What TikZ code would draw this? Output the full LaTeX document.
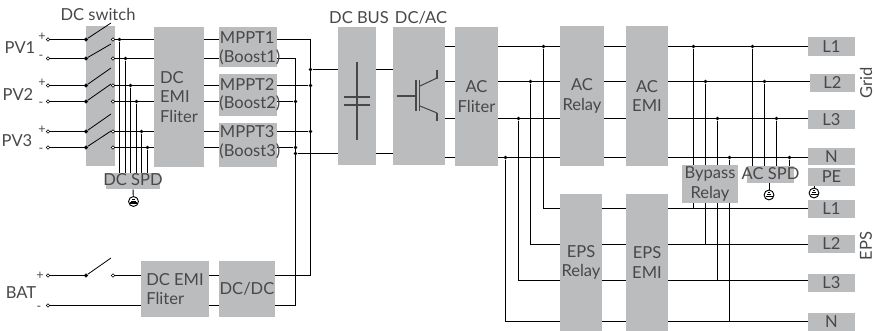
\documentclass[tikz,border=0pt]{standalone}
\usepackage{fontspec}
\setmainfont{Lato}
\definecolor{boxgray}{RGB}{187,188,190}
\definecolor{txtgray}{RGB}{72,72,74}
\tikzset{every picture/.style={line width=0.7pt}}
\tikzset{
  box/.style={fill=boxgray,inner sep=0pt,text=txtgray,align=center,font=\fontsize{12.4}{14.8}\selectfont},
  lbl/.style={inner sep=0.75pt,text=txtgray,font=\fontsize{12.4}{14.8}\selectfont},
  sign/.style={inner sep=0pt,text=txtgray,font=\fontsize{9.5}{9.5}\selectfont},
  term/.style={circle,draw,fill=white,line width=0.5pt,inner sep=0pt,minimum size=2.6pt},
  dot/.style={circle,fill=black,inner sep=0pt,minimum size=2.8pt},
  blade/.style={line width=0.6pt},
  symb/.style={color=txtgray,line width=1.1pt},
  gndsym/.pic={
    \node (-c) [circle,draw,fill=white,line width=0.7pt,inner sep=0pt,minimum size=7.4pt] at (0,0) {};
    \draw [line width=0.9pt] (-3.5,-1.6) -- (3.5,-1.6);
    \draw [line width=0.9pt] (-2.4,0.3) -- (2.4,0.3);
    \draw [line width=0.9pt] (-1.2,2.1) -- (1.2,2.1);
  }
}

\begin{document}
\begin{tikzpicture}[x=0.75pt,y=0.75pt,yscale=-1,xscale=1]
\useasboundingbox (0,0) rectangle (875,331);

%Levels of the wires
\coordinate (pa) at (0,39.5);
\coordinate (pb) at (0,58.5);
\coordinate (pc) at (0,85.5);
\coordinate (pd) at (0,101.5);
\coordinate (pe) at (0,131.5);
\coordinate (pf) at (0,147.5);
\coordinate (bp) at (0,275.5);
\coordinate (bm) at (0,305.5);
\coordinate (busp) at (0,69.5);
\coordinate (busm) at (0,153.5);
\coordinate (ga) at (0,46.5);
\coordinate (gb) at (0,81.5);
\coordinate (gc) at (0,118.5);
\coordinate (gd) at (0,157.5);
\coordinate (ea) at (0,208.5);
\coordinate (eb) at (0,244.5);
\coordinate (ec) at (0,280.5);
\coordinate (ed) at (0,321.5);

%Shapes: boxes
\node (swbox) [box,minimum width=21.75pt,minimum height=105pt] at (100.5,96) {};
\node (dcemi) [box,minimum width=37.5pt,minimum height=105pt,align=left] at (179,97) {DC\\EMI\\Fliter};
\node (mpptA) [box,minimum width=43.5pt,minimum height=30pt] at (248,47) {};
\node (mpptB) [box,minimum width=43.5pt,minimum height=31.5pt] at (248,95) {};
\node (mpptC) [box,minimum width=43.5pt,minimum height=33pt] at (248,145) {};
\node (dcspd) [box,minimum width=40.5pt,minimum height=12pt] at (133,181) {};
\node (dcbus) [box,minimum width=28.5pt,minimum height=103.5pt] at (357,96) {};
\node (dcac) [box,minimum width=39pt,minimum height=103.5pt] at (419,96) {};
\node (acfil) [box,minimum width=32.25pt,minimum height=104.25pt] at (476.5,96.5) {AC\\Fliter};
\node (acrel) [box,minimum width=33pt,minimum height=105pt] at (582,96) {AC\\Relay};
\node (acemi) [box,minimum width=31.5pt,minimum height=105pt] at (647,96) {AC\\EMI};
\node (bypass) [box,minimum width=42pt,minimum height=28.5pt] at (710,184) {Bypass\\Relay};
\node (acspd) [box,minimum width=35.25pt,minimum height=12.75pt] at (770.5,174.5) {};
\node (gridA) [box,minimum width=35.25pt,minimum height=14.25pt] at (831.5,46.5) {L1};
\node (gridB) [box,minimum width=33.75pt,minimum height=13.5pt] at (832.5,83) {L2};
\node (gridC) [box,minimum width=35.25pt,minimum height=14.25pt] at (831.5,119.5) {L3};
\node (gridN) [box,minimum width=35.25pt,minimum height=12.75pt] at (831.5,156.5) {N};
\node (gridPE) [box,minimum width=35.25pt,minimum height=13.5pt] at (831.5,177) {PE};
\node (epsA) [box,minimum width=35.25pt,minimum height=13.5pt] at (831.5,209) {L1};
\node (epsB) [box,minimum width=35.25pt,minimum height=13.5pt] at (831.5,244) {L2};
\node (epsC) [box,minimum width=35.25pt,minimum height=13.5pt] at (831.5,283) {L3};
\node (epsN) [box,minimum width=35.25pt,minimum height=13.5pt] at (831.5,322) {N};
\node (epsrel) [box,minimum width=31.5pt,minimum height=102.75pt] at (581,262.5) {EPS\\Relay};
\node (epsemi) [box,minimum width=31.5pt,minimum height=102.75pt] at (647,262.5) {EPS\\EMI};
\node (batemi) [box,minimum width=51pt,minimum height=42pt,align=left] at (175,289) {DC EMI\\Fliter};
\node (dcdc) [box,minimum width=42pt,minimum height=42pt] at (247,289) {DC/DC};

%Terminals of the PV strings and the battery
\node (inA) [term] at (48,39.5) {};
\node (inB) [term] at (48,58.5) {};
\node (inC) [term] at (48,85.5) {};
\node (inD) [term] at (48,101.5) {};
\node (inE) [term] at (48,131.5) {};
\node (inF) [term] at (48,147.5) {};
\node (inP) [term] at (48,275.5) {};
\node (inM) [term] at (48,305.5) {};
\node (swAl) [term,fill=black] at (86,39.5) {};
\node (swBl) [term,fill=black] at (86,58.5) {};
\node (swCl) [term,fill=black] at (86,85.5) {};
\node (swDl) [term,fill=black] at (86,101.5) {};
\node (swEl) [term,fill=black] at (86,131.5) {};
\node (swFl) [term,fill=black] at (86,147.5) {};
\node (swPl) [term,fill=black] at (86,275.5) {};
\node (swAr) [term] at (113,39.5) {};
\node (swBr) [term] at (113,58.5) {};
\node (swCr) [term] at (113,85.5) {};
\node (swDr) [term] at (113,101.5) {};
\node (swEr) [term] at (113,131.5) {};
\node (swFr) [term] at (113,147.5) {};
\node (swPr) [term] at (113,275.5) {};

%Switch blades
\coordinate (blA) at (111,23);
\coordinate (blB) at (111,44);
\coordinate (blC) at (111,68);
\coordinate (blD) at (111,84);
\coordinate (blE) at (111,114);
\coordinate (blF) at (111,131);
\coordinate (blP) at (111,258);
\draw [blade] (swAl) -- (blA);
\draw [blade] (swBl) -- (blB);
\draw [blade] (swCl) -- (blC);
\draw [blade] (swDl) -- (blD);
\draw [blade] (swEl) -- (blE);
\draw [blade] (swFl) -- (blF);
\draw [blade] (swPl) -- (blP);

%Straight Lines: strings into the switch
\draw (inA) -- (swAl);
\draw (inB) -- (swBl);
\draw (inC) -- (swCl);
\draw (inD) -- (swDl);
\draw (inE) -- (swEl);
\draw (inF) -- (swFl);
\draw (inP) -- (swPl);

%Straight Lines: switch to DC EMI
\draw (swAr) -- (swAr -| dcemi.west);
\draw (swBr) -- (swBr -| dcemi.west);
\draw (swCr) -- (swCr -| dcemi.west);
\draw (swDr) -- (swDr -| dcemi.west);
\draw (swEr) -- (swEr -| dcemi.west);
\draw (swFr) -- (swFr -| dcemi.west);
\draw (swPr) -- (swPr -| batemi.west);
\draw (inM) -- (inM -| batemi.west);

%Straight Lines: DC SPD
\node (spdA) [dot] at (119.5,39.5) {};
\node (spdB) [dot] at (125.5,58.5) {};
\node (spdC) [dot] at (130.5,85.5) {};
\node (spdD) [dot] at (136.5,101.5) {};
\node (spdE) [dot] at (141.5,131.5) {};
\node (spdF) [dot] at (147.5,147.5) {};
\draw (spdA) -- (spdA |- dcspd.north);
\draw (spdB) -- (spdB |- dcspd.north);
\draw (spdC) -- (spdC |- dcspd.north);
\draw (spdD) -- (spdD |- dcspd.north);
\draw (spdE) -- (spdE |- dcspd.north);
\draw (spdF) -- (spdF |- dcspd.north);

%Straight Lines: DC EMI to MPPT
\draw (dcemi.east |- pa) -- (mpptA.west |- pa);
\draw (dcemi.east |- pb) -- (mpptA.west |- pb);
\draw (dcemi.east |- pc) -- (mpptB.west |- pc);
\draw (dcemi.east |- pd) -- (mpptB.west |- pd);
\draw (dcemi.east |- pe) -- (mpptC.west |- pe);
\draw (dcemi.east |- pf) -- (mpptC.west |- pf);
\draw (batemi.east |- bp) -- (dcdc.west |- bp);
\draw (batemi.east |- bm) -- (dcdc.west |- bm);

%Straight Lines: rails to the bus
\coordinate (railP) at (310.5,0);
\coordinate (railM) at (295.5,0);
\draw (mpptA.east |- pa) -- (railP |- pa) -- (railP |- bp) -- (dcdc.east |- bp);
\draw (mpptA.east |- pb) -- (railM |- pb) -- (railM |- bm) -- (dcdc.east |- bm);
\node (railA) [dot] at (310.5,69.5) {};
\node (railB) [dot] at (310.5,85.5) {};
\node (railC) [dot] at (310.5,131.5) {};
\node (railD) [dot] at (295.5,101.5) {};
\node (railE) [dot] at (295.5,147.5) {};
\node (railF) [dot] at (295.5,153.5) {};
\draw (mpptB.east |- pc) -- (railB);
\draw (mpptB.east |- pd) -- (railD);
\draw (mpptC.east |- pe) -- (railC);
\draw (mpptC.east |- pf) -- (railE);
\draw (railA) -- (railA -| dcbus.west);
\draw (railF) -- (railF -| dcbus.west);
\draw (dcbus.east |- busp) -- (dcac.west |- busp);
\draw (dcbus.east |- busm) -- (dcac.west |- busm);

%Straight Lines: AC side
\draw (dcac.east |- ga) -- (acfil.west |- ga);
\draw (dcac.east |- gb) -- (acfil.west |- gb);
\draw (dcac.east |- gc) -- (acfil.west |- gc);
\draw (dcac.east |- gd) -- (acfil.west |- gd);
\draw (acfil.east |- ga) -- (acrel.west |- ga);
\draw (acfil.east |- gb) -- (acrel.west |- gb);
\draw (acfil.east |- gc) -- (acrel.west |- gc);
\draw (acfil.east |- gd) -- (acrel.west |- gd);
\draw (acrel.east |- ga) -- (acemi.west |- ga);
\draw (acrel.east |- gb) -- (acemi.west |- gb);
\draw (acrel.east |- gc) -- (acemi.west |- gc);
\draw (acrel.east |- gd) -- (acemi.west |- gd);
\draw (acemi.east |- ga) -- (gridA.west |- ga);
\draw (acemi.east |- gb) -- (gridB.west |- gb);
\draw (acemi.east |- gc) -- (gridC.west |- gc);
\draw (acemi.east |- gd) -- (gridN.west |- gd);

%Straight Lines: branches to EPS
\node (brA) [dot] at (543.5,46.5) {};
\node (brB) [dot] at (530.5,81.5) {};
\node (brC) [dot] at (518.5,118.5) {};
\node (brD) [dot] at (505.5,157.5) {};
\draw (brA) -- (brA |- ea) -- (epsrel.west |- ea);
\draw (brB) -- (brB |- eb) -- (epsrel.west |- eb);
\draw (brC) -- (brC |- ec) -- (epsrel.west |- ec);
\draw (brD) -- (brD |- ed) -- (epsrel.west |- ed);
\draw (epsrel.east |- ea) -- (epsemi.west |- ea);
\draw (epsrel.east |- eb) -- (epsemi.west |- eb);
\draw (epsrel.east |- ec) -- (epsemi.west |- ec);
\draw (epsrel.east |- ed) -- (epsemi.west |- ed);
\draw (epsemi.east |- ea) -- (epsA.west |- ea);
\draw (epsemi.east |- eb) -- (epsB.west |- eb);
\draw (epsemi.east |- ec) -- (epsC.west |- ec);
\draw (epsemi.east |- ed) -- (epsN.west |- ed);

%Straight Lines: Bypass Relay
\node (byA) [dot] at (693.5,46.5) {};
\node (byB) [dot] at (705.5,81.5) {};
\node (byC) [dot] at (717.5,118.5) {};
\node (byD) [dot] at (729.5,157.5) {};
\draw (byA) -- (byA |- bypass.north);
\draw (byB) -- (byB |- bypass.north);
\draw (byC) -- (byC |- bypass.north);
\draw (byD) -- (byD |- bypass.north);
\draw (byA |- bypass.south) -- (byA |- ea);
\draw (byB |- bypass.south) -- (byB |- eb);
\draw (byC |- bypass.south) -- (byC |- ec);
\draw (byD |- bypass.south) -- (byD |- ed);

%Straight Lines: AC SPD
\node (asA) [dot] at (752.5,46.5) {};
\node (asB) [dot] at (764.5,81.5) {};
\node (asC) [dot] at (776.5,118.5) {};
\node (asD) [dot] at (789.5,157.5) {};
\draw (asA) -- (asA |- acspd.north);
\draw (asB) -- (asB |- acspd.north);
\draw (asC) -- (asC |- acspd.north);
\draw (asD) -- (asD |- acspd.north);

%Earth symbols
\pic (gndA) at (133.5,201.5) {gndsym};
\pic (gndB) at (769,195) {gndsym};
\pic (gndC) at (814,193) {gndsym};
\draw (dcspd.south) -- (gndA-c);
\draw (gndB-c |- acspd.south) -- (gndB-c);
\draw (gndC-c |- gridPE.south) -- (gndC-c);

%Capacitor
\draw [symb] (357,62) -- (357,140);
\draw [symb] (344,97) -- (370,97);
\draw [symb] (344,105) -- (370,105);

%Transistor
\draw [symb] (397,96) -- (416,96);
\draw [symb] (416,80) -- (416,111);
\draw [symb] (419.5,80) -- (419.5,111);
\draw [symb,line width=0.8pt] (420,86) -- (437,78);
\draw [symb] (437,70) -- (437,79);
\draw [symb,line width=0.8pt] (420,106) -- (437,113);
\draw [symb] (437,113) -- (437,121);

% Text Node
\node (tSwitch) [lbl] at (98,14) {DC switch};
\node (tPVa) [lbl] at (20,48) {PV1};
\node (tPVb) [lbl] at (18,95) {PV2};
\node (tPVc) [lbl] at (17,141) {PV3};
\node (tBat) [lbl] at (21,293) {BAT};
\node (tBus) [lbl] at (359,18) {DC BUS};
\node (tInv) [lbl] at (421,18) {DC/AC};
\node (tSpdD) [lbl] at (133,180) {DC SPD};
\node (tSpdA) [lbl] at (770.5,174) {AC SPD};
\node (tGrid) [lbl,rotate=90] at (866,83) {Grid};
\node (tEps) [lbl,rotate=90] at (866,246) {EPS};
\node (tMa) [lbl,anchor=west] at (218.5,38) {MPPT1};
\node (tMb) [lbl,anchor=west] at (218,57.5) {(Boost1)};
\node (tMc) [lbl,anchor=west] at (218.5,85) {MPPT2};
\node (tMd) [lbl,anchor=west] at (218,103.5) {(Boost2)};
\node (tMe) [lbl,anchor=west] at (218.5,131.5) {MPPT3};
\node (tMf) [lbl,anchor=west] at (218,151.5) {(Boost3)};
% Text Node
\node (sgA) [sign] at (42,37) {+};
\node (sgB) [sign] at (41,57.5) {-};
\node (sgC) [sign] at (42,83) {+};
\node (sgD) [sign] at (41,104) {-};
\node (sgE) [sign] at (42,130) {+};
\node (sgF) [sign] at (41,150) {-};
\node (sgP) [sign] at (40,276) {+};
\node (sgM) [sign] at (39,308) {-};

\end{tikzpicture}
\end{document}
